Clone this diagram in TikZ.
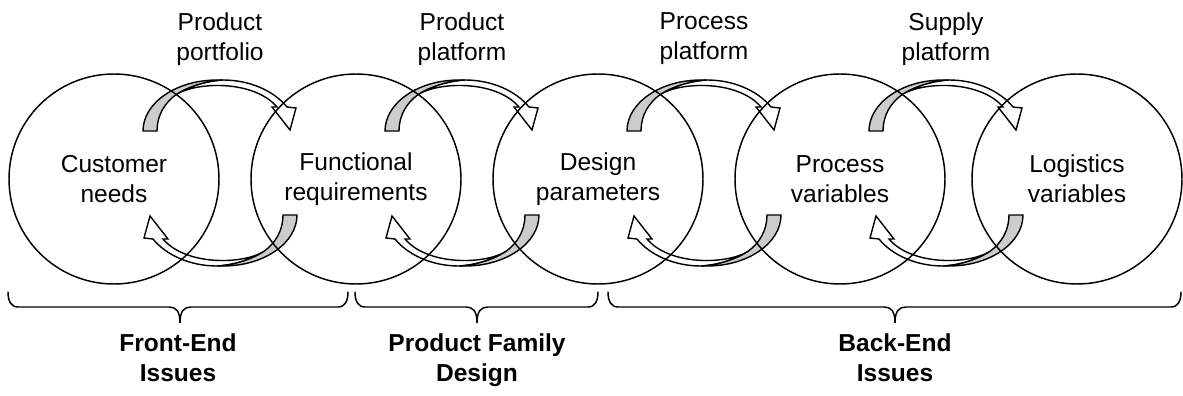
\documentclass[tikz,border=0pt]{standalone}
\usepackage{fontspec}
\setmainfont{Liberation Sans}
\usepackage{tikz}
\definecolor{band}{HTML}{CCCCCC}
\tikzset{x=0.75pt, y=-0.75pt,
every node/.style={inner sep=0pt, align=center, font=\fontsize{18.4pt}{22.5pt}\selectfont},
ring/.style={circle, draw, line width=1.1pt, minimum size=157.5pt},
issue/.style={font=\fontsize{18.4pt}{22.5pt}\selectfont\bfseries},
brc/.style={line width=1.1pt, line cap=round},
twistarrow/.pic={
  % front of the ribbon, with the head
  \filldraw[fill=white, line width=1.05pt, line join=miter]
    (-43,-79) .. controls (-20,-92) and (35,-92) .. (57,-66)
    -- (52,-66) -- (70,-43) -- (76,-65) -- (67,-66)
    .. controls (54,-82) and (30,-93) .. (3,-93)
    .. controls (-15,-92) and (-32,-86) .. cycle;
  % back of the ribbon
  \filldraw[fill=band, line width=1.05pt, line join=miter]
    (-77,-42) .. controls (-77,-70) and (-44,-93) .. (-3,-93) -- (3,-93)
    .. controls (-15,-92) and (-32,-86) .. (-43,-79)
    .. controls (-56,-70) and (-63,-57) .. (-63,-42) -- cycle;
}}
\newcommand{\groupbrace}[3]{% left end, tip, right end
  \draw[brc] (#1,292) .. controls (#1,301) and (#1+3,307) .. (#1+10,307)
    -- (#2-11,307) .. controls (#2-4,307) and (#2,311) .. (#2,323)
    .. controls (#2,311) and (#2+4,307) .. (#2+11,307)
    -- (#3-10,307) .. controls (#3-3,307) and (#3,301) .. (#3,292);}

\begin{document}
\begin{tikzpicture}
\useasboundingbox (0,0) rectangle (1183,396);
% mappings between the domains
\pic at (220,173) {twistarrow};
\pic[rotate=180] at (220,173) {twistarrow};
\pic at (462,173) {twistarrow};
\pic[rotate=180] at (462,173) {twistarrow};
\pic at (704,173) {twistarrow};
\pic[rotate=180] at (704,173) {twistarrow};
\pic at (946,173) {twistarrow};
\pic[rotate=180] at (946,173) {twistarrow};
% domains
\node[ring] (cn) at (114,179) {Customer\\needs};
\node[ring] (fr) at (356,179) {Functional\\requirements};
\node[ring] (dp) at (598,179) {Design\\parameters};
\node[ring] (pv) at (840,179) {Process\\variables};
\node[ring] (lv) at (1077,179) {Logistics\\variables};
% platforms
\node[anchor=north] (pf) at (220,12) {Product\\portfolio};
\node[anchor=north] (pp) at (462,12) {Product\\platform};
\node[anchor=north] (rp) at (704,12) {Process\\platform};
\node[anchor=north] (sp) at (946,12) {Supply\\platform};
% issues
\groupbrace{8}{180}{348}
\groupbrace{355}{477}{598}
\groupbrace{608}{895}{1181}
\node[issue, anchor=north] (fe) at (178,333) {Front-End\\Issues};
\node[issue, anchor=north] (pd) at (477,333) {Product Family\\Design};
\node[issue, anchor=north] (be) at (895,333) {Back-End\\Issues};
\end{tikzpicture}
\end{document}
